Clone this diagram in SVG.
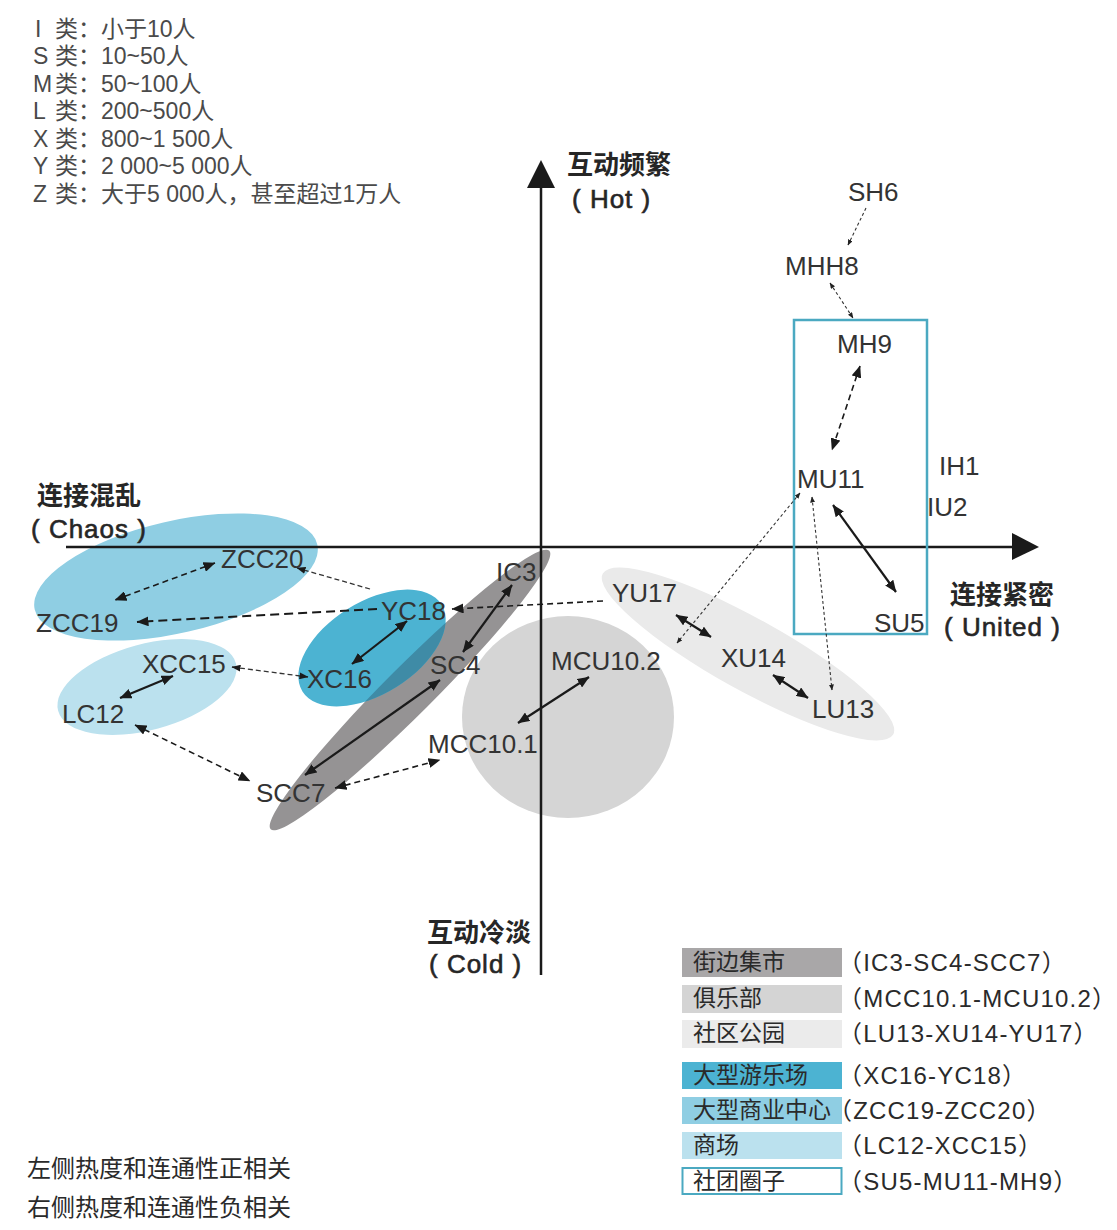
<svg xmlns="http://www.w3.org/2000/svg" width="1117" height="1230" viewBox="0 0 1117 1230">
<defs>
<style>
text{font-family:"Liberation Sans","Noto Sans CJK SC",sans-serif;fill:#333}
.lbl{font-size:26px}
.key{font-size:23px;fill:#4a4a4a}
.ax{font-size:26px;font-weight:bold;fill:#262626}
.axl{font-size:26px;fill:#262626;stroke:#262626;stroke-width:0.6px;letter-spacing:1px}
.note{font-size:24px;fill:#2a2a2a}
.lg{font-size:23px;fill:#2a2a2a}
.lgr{font-size:24px;fill:#2a2a2a;letter-spacing:1.2px}
.solid{stroke:#1a1a1a;stroke-width:2.2;fill:none}
.dash{stroke:#1a1a1a;stroke-width:1.6;stroke-dasharray:6 4;fill:none}
.dashl{stroke:#1a1a1a;stroke-width:2;stroke-dasharray:9 5;fill:none}
.dasht{stroke:#333;stroke-width:1.3;stroke-dasharray:5 3;fill:none}
.dot{stroke:#333;stroke-width:1.1;stroke-dasharray:3 2.5;fill:none}
.axis{stroke:#1a1a1a;stroke-width:2.5;fill:none}
</style>
<marker id="ab" viewBox="0 0 12 10" refX="11.5" refY="5" markerWidth="12" markerHeight="10" markerUnits="userSpaceOnUse" orient="auto-start-reverse"><path d="M0,0 L12,5 L0,10 z" fill="#1a1a1a"/></marker>
<marker id="am" viewBox="0 0 9 7" refX="8.5" refY="3.5" markerWidth="9" markerHeight="7" markerUnits="userSpaceOnUse" orient="auto-start-reverse"><path d="M0,0 L9,3.5 L0,7 z" fill="#1a1a1a"/></marker>
<marker id="as" viewBox="0 0 6 5" refX="5.5" refY="2.5" markerWidth="6" markerHeight="5" markerUnits="userSpaceOnUse" orient="auto-start-reverse"><path d="M0,0 L6,2.5 L0,5 z" fill="#222"/></marker>
<clipPath id="clipBlue"><ellipse cx="372" cy="648" rx="82" ry="46" transform="rotate(-32 372 648)"/></clipPath>
</defs>
<rect width="1117" height="1230" fill="#ffffff"/>

<g id="regions">
<ellipse id="region-mall-center" cx="176" cy="577" rx="145" ry="56" transform="rotate(-13 176 577)" fill="#8fcee3"/>
<ellipse id="region-mall" cx="147" cy="687" rx="92" ry="43" transform="rotate(-15 147 687)" fill="#bbe1ee"/>
<ellipse id="region-club" cx="568" cy="717" rx="106" ry="101" fill="#d5d5d5"/>
<ellipse id="region-park" cx="748" cy="654" rx="166" ry="36" transform="rotate(29 748 654)" fill="#eaeaea"/>
<ellipse id="region-market" cx="410" cy="690" rx="197" ry="24" transform="rotate(-45 410 690)" fill="#959394"/>
<ellipse id="region-amusement" cx="372" cy="648" rx="82" ry="46" transform="rotate(-32 372 648)" fill="#4cb3d2"/>
<g clip-path="url(#clipBlue)"><ellipse cx="410" cy="690" rx="197" ry="24" transform="rotate(-45 410 690)" fill="#3f8ba6"/></g>
</g>

<g id="axes">
<line class="axis" x1="66" y1="547" x2="1014" y2="547"/>
<path d="M1012,533 L1039,547 L1012,560 z" fill="#1a1a1a"/>
<line class="axis" x1="541" y1="975" x2="541" y2="186"/>
<path d="M527,188 L541,160 L555,188 z" fill="#1a1a1a"/>
</g>

<rect id="region-society" x="794" y="320" width="133" height="314" fill="none" stroke="#4ba9c1" stroke-width="2.5"/>

<g id="connectors">
<line class="dot" x1="866" y1="208" x2="848" y2="245" marker-end="url(#as)"/>
<line class="dot" x1="830" y1="283" x2="853" y2="318" marker-start="url(#as)" marker-end="url(#as)"/>
<line class="dash" x1="860" y1="366" x2="832" y2="450" marker-start="url(#ab)" marker-end="url(#ab)"/>
<line class="solid" x1="833" y1="505" x2="896" y2="592" marker-start="url(#ab)" marker-end="url(#ab)"/>
<line class="dot" x1="800" y1="493" x2="677" y2="643" marker-start="url(#as)" marker-end="url(#as)"/>
<line class="dot" x1="812" y1="497" x2="832" y2="690" marker-start="url(#as)" marker-end="url(#as)"/>
<line class="solid" x1="676" y1="615" x2="711" y2="637" marker-start="url(#ab)" marker-end="url(#ab)"/>
<line class="solid" x1="773" y1="675" x2="808" y2="698" marker-start="url(#ab)" marker-end="url(#ab)"/>
<line class="dash" x1="603" y1="601" x2="452" y2="609" marker-end="url(#ab)"/>
<line class="solid" x1="512" y1="585" x2="463" y2="652" marker-start="url(#ab)" marker-end="url(#ab)"/>
<line class="solid" x1="440" y1="680" x2="305" y2="775" marker-start="url(#ab)" marker-end="url(#ab)"/>
<line class="dash" x1="335" y1="788" x2="440" y2="760" marker-start="url(#ab)" marker-end="url(#ab)"/>
<line class="solid" x1="518" y1="723" x2="589" y2="677" marker-start="url(#ab)" marker-end="url(#ab)"/>
<line class="solid" x1="407" y1="621" x2="352" y2="664" marker-start="url(#ab)" marker-end="url(#ab)"/>
<line class="dashl" x1="377" y1="609" x2="137" y2="622" marker-end="url(#ab)"/>
<line class="dasht" x1="370" y1="589" x2="297" y2="568" marker-end="url(#am)"/>
<line class="dash" x1="215" y1="563" x2="115" y2="600" marker-start="url(#ab)" marker-end="url(#ab)"/>
<line class="dasht" x1="232" y1="667" x2="308" y2="677" marker-start="url(#am)" marker-end="url(#am)"/>
<line class="solid" x1="120" y1="698" x2="173" y2="676" marker-start="url(#ab)" marker-end="url(#ab)"/>
<line class="dash" x1="135" y1="725" x2="250" y2="781" marker-start="url(#ab)" marker-end="url(#ab)"/>
</g>

<g id="node-SH6"><text class="lbl" x="848" y="201">SH6</text></g>
<g id="node-MHH8"><text class="lbl" x="785" y="275">MHH8</text></g>
<g id="node-MH9"><text class="lbl" x="837" y="353">MH9</text></g>
<g id="node-MU11"><text class="lbl" x="797" y="488">MU11</text></g>
<g id="node-IH1"><text class="lbl" x="939" y="475">IH1</text></g>
<g id="node-IU2"><text class="lbl" x="927" y="516">IU2</text></g>
<g id="node-SU5"><text class="lbl" x="874" y="632">SU5</text></g>
<g id="node-YU17"><text class="lbl" x="612" y="602">YU17</text></g>
<g id="node-XU14"><text class="lbl" x="721" y="667">XU14</text></g>
<g id="node-LU13"><text class="lbl" x="812" y="718">LU13</text></g>
<g id="node-IC3"><text class="lbl" x="496" y="581">IC3</text></g>
<g id="node-SC4"><text class="lbl" x="430" y="674">SC4</text></g>
<g id="node-SCC7"><text class="lbl" x="256" y="802">SCC7</text></g>
<g id="node-MCC10.1"><text class="lbl" x="428" y="753">MCC10.1</text></g>
<g id="node-MCU10.2"><text class="lbl" x="551" y="670">MCU10.2</text></g>
<g id="node-YC18"><text class="lbl" x="381" y="620">YC18</text></g>
<g id="node-XC16"><text class="lbl" x="307" y="688">XC16</text></g>
<g id="node-ZCC20"><text class="lbl" x="221" y="568">ZCC20</text></g>
<g id="node-ZCC19"><text class="lbl" x="36" y="632">ZCC19</text></g>
<g id="node-XCC15"><text class="lbl" x="142" y="673">XCC15</text></g>
<g id="node-LC12"><text class="lbl" x="62" y="723">LC12</text></g>

<g id="axis-labels">
<text class="ax" x="567" y="174">互动频繁</text>
<text class="axl" x="572" y="208">( Hot )</text>
<text class="ax" x="427" y="942">互动冷淡</text>
<text class="axl" x="429" y="973">( Cold )</text>
<text class="ax" x="37" y="505">连接混乱</text>
<text class="axl" x="31" y="538">( Chaos )</text>
<text class="ax" x="950" y="604">连接紧密</text>
<text class="axl" x="944" y="636">( United )</text>
</g>

<g id="size-key">
<text class="key" x="35" y="37">I<tspan x="55">类：小于10人</tspan></text>
<text class="key" x="33" y="64">S<tspan x="55">类：10~50人</tspan></text>
<text class="key" x="33" y="92">M<tspan x="55">类：50~100人</tspan></text>
<text class="key" x="33" y="119">L<tspan x="55">类：200~500人</tspan></text>
<text class="key" x="33" y="147">X<tspan x="55">类：800~1 500人</tspan></text>
<text class="key" x="33" y="174">Y<tspan x="55">类：2 000~5 000人</tspan></text>
<text class="key" x="33" y="202">Z<tspan x="55">类：大于5 000人，甚至超过1万人</tspan></text>
</g>

<g id="notes">
<text class="note" x="27" y="1177">左侧热度和连通性正相关</text>
<text class="note" x="27" y="1216">右侧热度和连通性负相关</text>
</g>

<g id="legend">
<g id="legend-market"><rect x="682" y="948" width="160" height="29" fill="#a9a7a8"/><text class="lg" x="693" y="970">街边集市</text><text class="lgr" x="838" y="971">（IC3-SC4-SCC7）</text></g>
<g id="legend-club"><rect x="682" y="985" width="160" height="28" fill="#d4d4d4"/><text class="lg" x="693" y="1006">俱乐部</text><text class="lgr" x="838" y="1007">（MCC10.1-MCU10.2）</text></g>
<g id="legend-park"><rect x="682" y="1020" width="160" height="28" fill="#ebebeb"/><text class="lg" x="693" y="1041">社区公园</text><text class="lgr" x="838" y="1042">（LU13-XU14-YU17）</text></g>
<g id="legend-amusement"><rect x="682" y="1062" width="160" height="27" fill="#4cb3d2"/><text class="lg" x="693" y="1083">大型游乐场</text><text class="lgr" x="838" y="1084">（XC16-YC18）</text></g>
<g id="legend-mallcenter"><rect x="682" y="1097" width="160" height="27" fill="#8fcee3"/><text class="lg" x="693" y="1118">大型商业中心</text><text class="lgr" x="828" y="1119">（ZCC19-ZCC20）</text></g>
<g id="legend-mall"><rect x="682" y="1132" width="160" height="27" fill="#bbe1ee"/><text class="lg" x="693" y="1153">商场</text><text class="lgr" x="838" y="1154">（LC12-XCC15）</text></g>
<g id="legend-society"><rect x="682.5" y="1168" width="159" height="26" fill="#ffffff" stroke="#4ba9c1" stroke-width="2"/><text class="lg" x="693" y="1189">社团圈子</text><text class="lgr" x="838" y="1190">（SU5-MU11-MH9）</text></g>
</g>
</svg>
